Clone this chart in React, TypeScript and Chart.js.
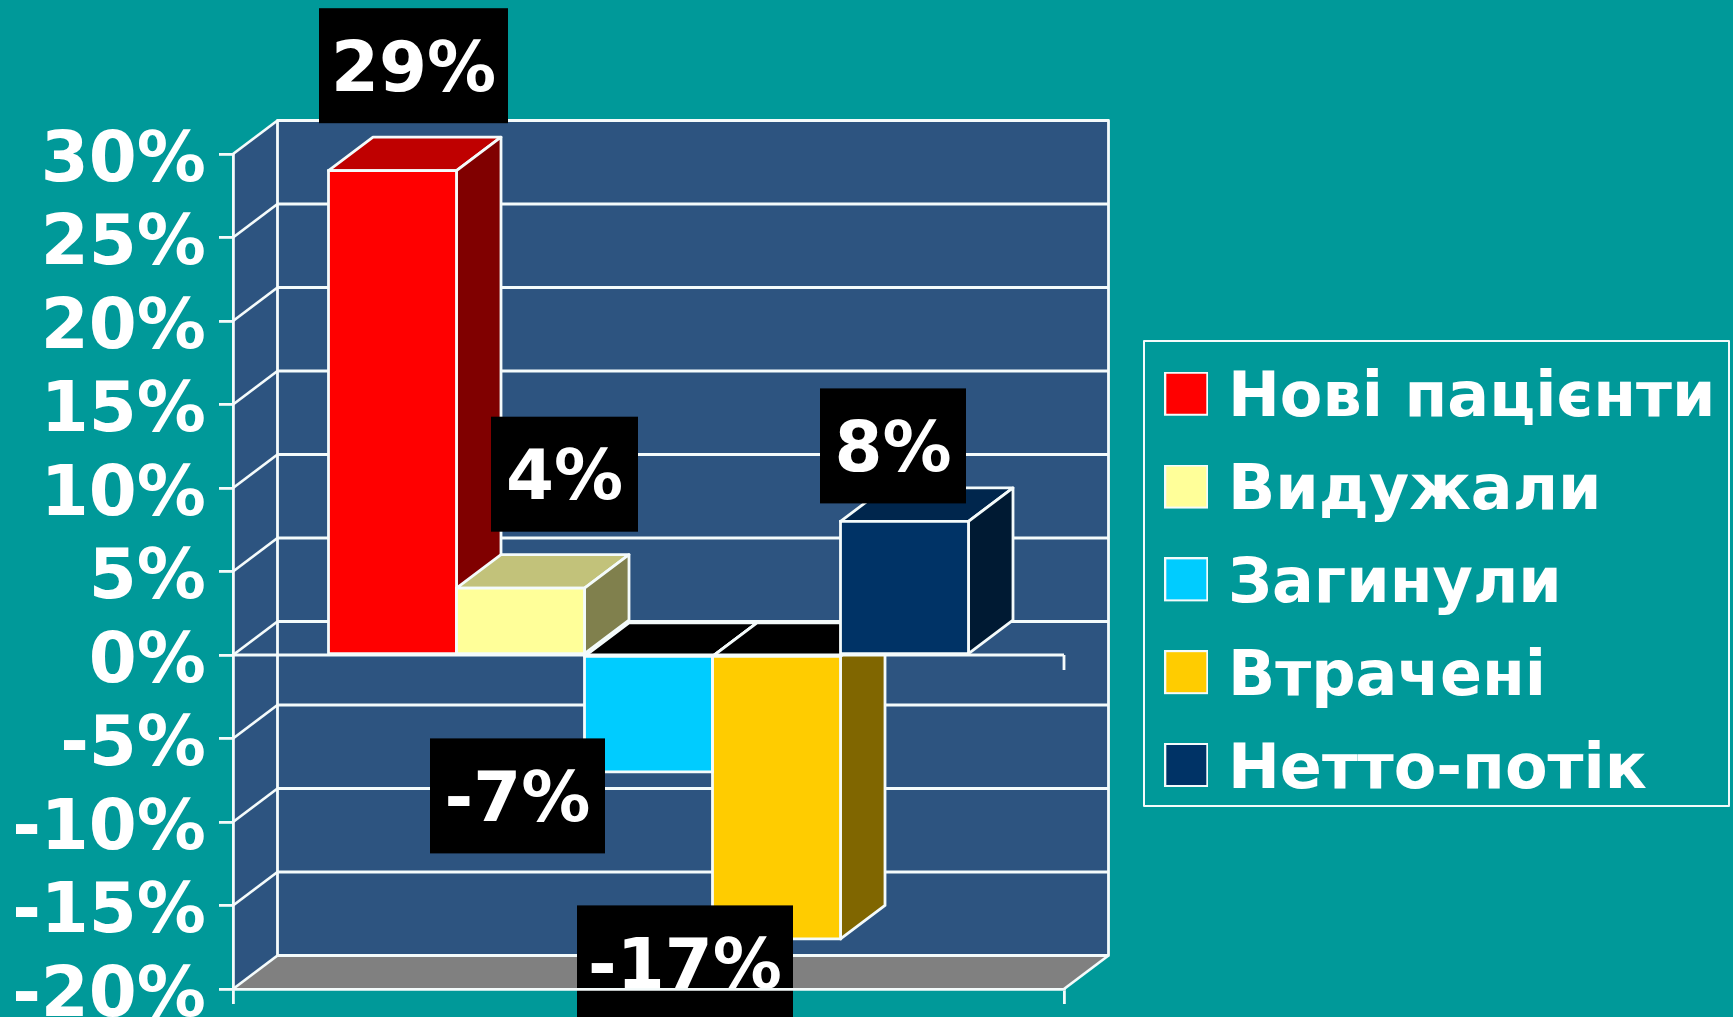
import React, { useEffect, useRef } from "react";
import { Chart, registerables } from "chart.js";

Chart.register(...registerables);

const seriesNames = ["Нові пацієнти", "Видужали", "Загинули", "Втрачені", "Нетто-потік"];
const seriesValues = [29, 4, -7, -17, 8];
const valueLabels = ["29%", "4%", "-7%", "-17%", "8%"];
const frontColors = ["#ff0000", "#ffff99", "#00ccff", "#ffcc00", "#003366"];
const sideColors = ["#800000", "#80804d", "#006680", "#806600", "#001a33"];
const topColors = ["#bf0000", "#c2c27a", "#000000", "#000000", "#00264d"];
// label box centre relative to the bar's centre / free end
const labelShiftX = [21, 44, -131, -91.5, -11.5];
const labelShiftY = [-105, -114, 24, 24, -75.5];

const FONT = '"DejaVu Sans"';
const TEAL = "#009999";
const WALL = "#2d5480";
const FLOOR = "#808080";
const WHITE = "#f4fbfb";
const LINE = 2.8;
const DX = 44.5;
const DY = 33.5;
const LABEL_W = [189, 147, 175, 216, 146];
const LABEL_H = 115;
const SQUARE = 44;
const SQUARE_LIFT = 6.5;

function poly(ctx: CanvasRenderingContext2D, pts: number[][], fill: string | null, stroke = true) {
  ctx.beginPath();
  pts.forEach((p, i) => (i ? ctx.lineTo(p[0], p[1]) : ctx.moveTo(p[0], p[1])));
  ctx.closePath();
  if (fill) {
    ctx.fillStyle = fill;
    ctx.fill();
  }
  if (stroke) {
    ctx.strokeStyle = WHITE;
    ctx.lineWidth = LINE;
    ctx.stroke();
  }
}

function line(ctx: CanvasRenderingContext2D, x1: number, y1: number, x2: number, y2: number) {
  ctx.beginPath();
  ctx.moveTo(x1, y1);
  ctx.lineTo(x2, y2);
  ctx.strokeStyle = WHITE;
  ctx.lineWidth = LINE;
  ctx.stroke();
}

function legendSquare(color: string) {
  const c = document.createElement("canvas");
  c.width = SQUARE;
  c.height = SQUARE + 2 * SQUARE_LIFT;
  const g = c.getContext("2d") as CanvasRenderingContext2D;
  g.fillStyle = color;
  g.fillRect(1, 1, SQUARE - 2, SQUARE - 2);
  g.strokeStyle = WHITE;
  g.lineWidth = 2;
  g.strokeRect(1, 1, SQUARE - 2, SQUARE - 2);
  return c;
}

const threeD = {
  id: "threeD",
  beforeDraw(chart: any) {
    const legend = chart.legend;
    legend.left = 1144.85;
    legend.right = 1729;
    legend.top = 338.45;
    legend.bottom = 1000;
    legend.width = legend.right - legend.left;
    legend.height = legend.bottom - legend.top;
  },
  beforeDatasetsDraw(chart: any) {
    const { ctx, chartArea: a, scales } = chart;
    const y = scales.y;
    ctx.save();
    ctx.lineJoin = "round";
    // walls
    poly(ctx, [[a.left, a.top], [a.left + DX, a.top - DY], [a.left + DX, a.bottom - DY], [a.left, a.bottom]], WALL, false);
    poly(ctx, [[a.left + DX, a.top - DY], [a.right + DX, a.top - DY], [a.right + DX, a.bottom - DY], [a.left + DX, a.bottom - DY]], WALL);
    poly(ctx, [[a.left, a.bottom], [a.left + DX, a.bottom - DY], [a.right + DX, a.bottom - DY], [a.right, a.bottom]], FLOOR, false);
    line(ctx, a.left + DX, a.bottom - DY, a.right + DX, a.bottom - DY);
    line(ctx, a.right + DX, a.bottom - DY, a.right, a.bottom);
    // gridlines from the value scale
    y.ticks.forEach((t: any) => {
      const py = y.getPixelForValue(t.value);
      line(ctx, a.left, py, a.left + DX, py - DY);
      line(ctx, a.left + DX, py - DY, a.right + DX, py - DY);
    });
    // side and top faces of the bars
    seriesValues.forEach((_v, i) => {
      const bar = chart.getDatasetMeta(i).data[0];
      const l = bar.x - bar.width / 2;
      const r = bar.x + bar.width / 2;
      const top = Math.min(bar.y, bar.base);
      const bot = Math.max(bar.y, bar.base);
      poly(ctx, [[l, top], [r, top], [r + DX, top - DY], [l + DX, top - DY]], topColors[i]);
      poly(ctx, [[r, top], [r + DX, top - DY], [r + DX, bot - DY], [r, bot]], sideColors[i]);
    });
    // legend frame
    ctx.strokeStyle = WHITE;
    ctx.lineWidth = 2;
    ctx.strokeRect(1144, 341, 585, 465);
    ctx.restore();
  },
  afterDatasetsDraw(chart: any) {
    const { ctx, chartArea: a, scales } = chart;
    const zero = scales.y.getPixelForValue(0);
    ctx.save();
    // single white outline centred on the edges of each front face
    seriesValues.forEach((_v, i) => {
      const bar = chart.getDatasetMeta(i).data[0];
      const l = bar.x - bar.width / 2;
      const r = bar.x + bar.width / 2;
      poly(ctx, [[l, bar.y], [r, bar.y], [r, bar.base], [l, bar.base]], null);
    });
    line(ctx, a.left, zero, a.right, zero);
    line(ctx, a.right, zero, a.right, zero + 15);
    // value labels on black boxes
    seriesValues.forEach((v, i) => {
      const bar = chart.getDatasetMeta(i).data[0];
      const cx = bar.x + labelShiftX[i];
      const cy = bar.y + labelShiftY[i];
      ctx.fillStyle = "#000000";
      ctx.fillRect(cx - LABEL_W[i] / 2, cy - LABEL_H / 2, LABEL_W[i], LABEL_H);
      ctx.fillStyle = "#ffffff";
      ctx.font = `bold 69px ${FONT}`;
      ctx.textAlign = "center";
      ctx.textBaseline = "middle";
      ctx.fillText(valueLabels[i], cx, cy + 7);
    });
    ctx.restore();
  },
};

export default function App() {
  const ref = useRef<HTMLCanvasElement | null>(null);

  useEffect(() => {
    if (!ref.current) return;
    const squares = frontColors.map(legendSquare);
    const chart = new Chart(ref.current, {
      type: "bar",
      plugins: [threeD],
      data: {
        labels: [""],
        datasets: seriesNames.map((name, i) => ({
          label: name,
          data: [seriesValues[i]],
          backgroundColor: frontColors[i],
          borderWidth: 0,
          categoryPercentage: 640 / 831,
          barPercentage: 1,
        })),
      },
      options: {
        responsive: false,
        animation: false,
        layout: { padding: { top: 154, right: 669, bottom: 0, left: 0 } },
        plugins: {
          tooltip: { enabled: false },
          title: { display: false },
          legend: {
            display: true,
            position: "chartArea",
            align: "start",
            labels: {
              color: "#ffffff",
              font: { family: FONT, size: 62, weight: "bold" },
              usePointStyle: true,
              pointStyle: "rect",
              boxWidth: 21.3,
              boxHeight: SQUARE,
              padding: 30.8,
              generateLabels: (c: any) =>
                (Chart.defaults.plugins.legend.labels as any)
                  .generateLabels(c)
                  .map((item: any, i: number) => ({ ...item, pointStyle: squares[i] })),
            },
          },
        },
        scales: {
          x: {
            type: "category",
            ticks: { display: false },
            grid: { drawOnChartArea: false, color: WHITE, lineWidth: LINE, tickLength: 15, tickColor: WHITE, z: 1 },
            border: { color: WHITE, width: LINE, z: 1 },
            afterFit: (s: any) => {
              s.height = 28;
            },
          },
          y: {
            type: "linear",
            min: -20,
            max: 30,
            ticks: {
              stepSize: 5,
              autoSkip: false,
              color: "#ffffff",
              padding: 13,
              labelOffset: 9,
              font: { family: FONT, size: 69, weight: "bold", lineHeight: 1 },
              callback: (v: any) => `${v}%`,
            },
            grid: { drawOnChartArea: false, color: WHITE, lineWidth: LINE, tickLength: 14, tickColor: WHITE, z: 1 },
            border: { color: WHITE, width: LINE, z: 1 },
            afterFit: (s: any) => {
              s.width = 233;
              s.paddingTop = 0;
              s.paddingBottom = 0;
            },
          },
        },
      },
    } as any);
    return () => chart.destroy();
  }, []);

  return (
    <div style={{ position: "fixed", left: 0, top: 0, width: 1733, height: 1017, background: TEAL, overflow: "hidden" }}>
      <canvas ref={ref} width={1733} height={1017} style={{ display: "block", width: 1733, height: 1017 }} />
    </div>
  );
}
